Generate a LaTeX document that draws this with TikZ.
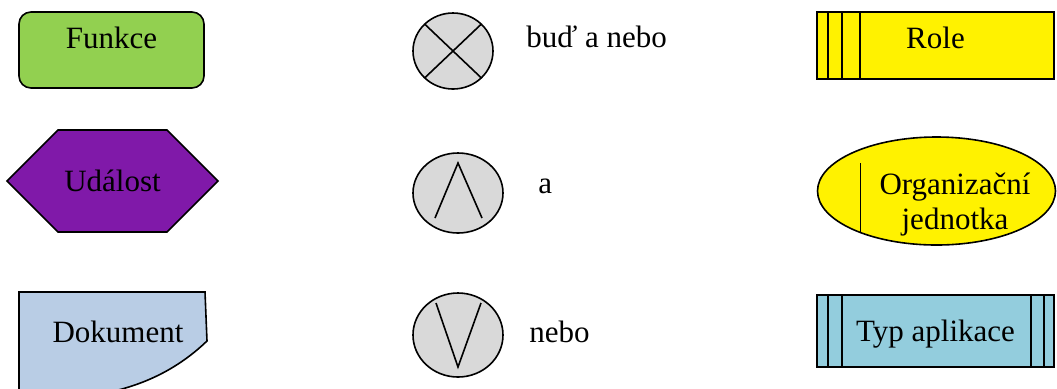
\documentclass[tikz,border=0pt]{standalone}
\usepackage{fontspec}
\setmainfont{Liberation Serif}
\usetikzlibrary{shapes.geometric,shapes.symbols}

\definecolor{fngreen}{HTML}{92D050}
\definecolor{evpurple}{HTML}{8019A9}
\definecolor{docblue}{HTML}{B9CDE5}
\definecolor{gategray}{HTML}{D9D9D9}
\definecolor{appcyan}{HTML}{93CDDD}

\begin{document}
\begin{tikzpicture}[x=0.5pt, y=-0.5pt,
    font=\fontsize{15.5}{17.5}\selectfont,
    txt/.style={inner sep=0pt, text height=10.5pt, text depth=0pt},
    shp/.style={txt, draw, line width=0.8pt},
    func/.style={shp, rectangle, rounded corners=6pt, fill=fngreen,
                 minimum width=92.5pt, minimum height=38pt, text depth=12pt},
    event/.style={shp, signal, signal to=west and east, signal pointer angle=90,
                  fill=evpurple, minimum width=105.5pt, minimum height=51pt},
    gate/.style={shp, ellipse, fill=gategray},
    xorgate/.style={gate, path picture={
        \draw[line width=0.8pt] (path picture bounding box.north west)
            -- (path picture bounding box.south east)
            (path picture bounding box.north east)
            -- (path picture bounding box.south west);}},
    andgate/.style={gate, path picture={
        \draw[line width=0.8pt] ([shift={(-11.5pt,-12.5pt)}]path picture bounding box.center)
            -- ++(11.5pt,27.5pt) -- ++(12pt,-27.5pt);}},
    orgate/.style={gate, path picture={
        \draw[line width=0.8pt] ([shift={(-11pt,16pt)}]path picture bounding box.center)
            -- ++(11pt,-32pt) -- ++(11.5pt,32pt);}},
    role/.style={shp, rectangle, fill=yellow, minimum width=118.5pt,
                 minimum height=33.5pt, text depth=8pt, path picture={
        \foreach \d in {5.5pt,12.5pt,21.5pt}
            \draw[line width=0.8pt] ([xshift=\d]path picture bounding box.south west)
                -- ([xshift=\d]path picture bounding box.north west);}},
    orgunit/.style={shp, ellipse, fill=yellow, minimum width=119pt,
                    minimum height=54pt, path picture={
        \draw[line width=0.8pt] ([shift={(-38pt,14pt)}]path picture bounding box.center)
            -- ++(0,-34.5pt);}},
    apptype/.style={shp, rectangle, fill=appcyan, minimum width=118.5pt,
                    minimum height=36pt, path picture={
        \foreach \d in {5.5pt,12.5pt}
            \draw[line width=0.8pt] ([xshift=\d]path picture bounding box.south west)
                -- ([xshift=\d]path picture bounding box.north west);
        \foreach \d in {5pt,11.5pt}
            \draw[line width=0.8pt] ([xshift=-\d]path picture bounding box.south east)
                -- ([xshift=-\d]path picture bounding box.north east);}},
    note/.style={anchor=base west, inner sep=0pt},
]

    \useasboundingbox (0,0) rectangle (1057,388);

    % left column
    \node[func] (funkce) at (111.5,50) {Funkce};
    \node[event] (udalost) at (112.5,181) {Událost};
    \draw[line width=0.8pt, fill=docblue] (19,292) -- (205,292) -- (207,341)
        .. controls (185,362) and (155,382) .. (110,392) -- (19,392) -- cycle;
    \node[txt] (dokument) at (118,331.5) {Dokument};

    % connectors
    \node[xorgate, minimum width=40pt, minimum height=38pt] (xor) at (453,51) {};
    \node[andgate, minimum width=45pt, minimum height=40pt] (and) at (458,193) {};
    \node[orgate, minimum width=45pt, minimum height=42pt] (or) at (458,335) {};
    \node[note] (xorlbl) at (526,47) {buď a nebo};
    \node[note] (andlbl) at (538,193) {a};
    \node[note] (orlbl) at (529,342) {nebo};

    % right column
    \node[role] (role) at (935.5,45.5) {Role};
    \node[orgunit] (org) at (936.5,191) {};
    \node[align=center, inner sep=0pt] (orgtext) at (955,205) {Organizační\\jednotka};
    \node[apptype] (app) at (935.5,331) {Typ aplikace};

\end{tikzpicture}
\end{document}
